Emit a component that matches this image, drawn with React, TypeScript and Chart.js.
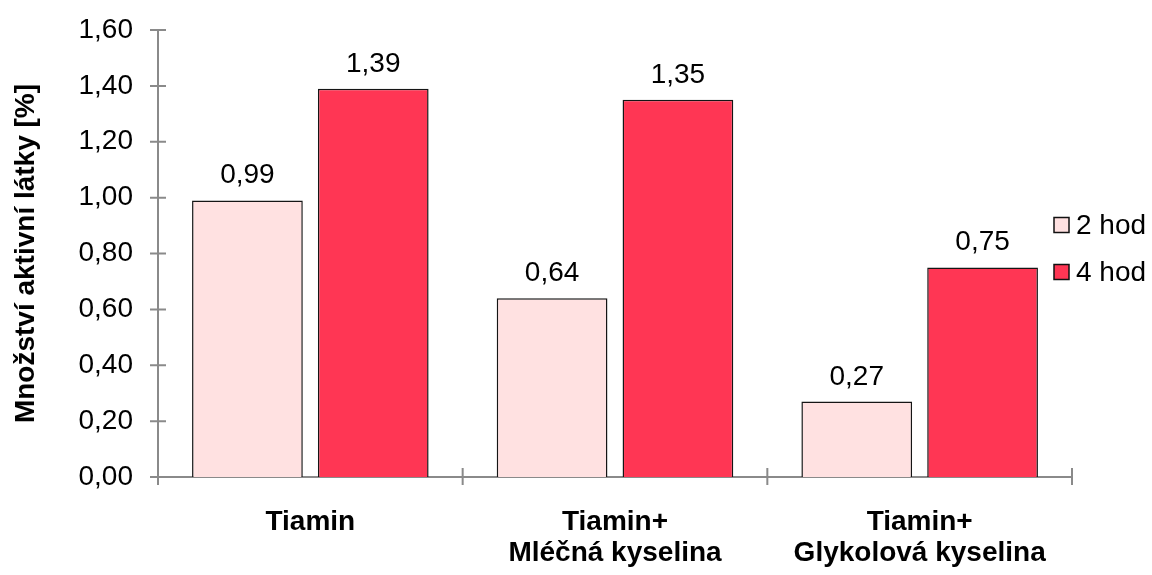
import React, { useEffect, useRef } from "react";
import { Chart, registerables } from "chart.js";

Chart.register(...registerables);

const categories: (string | string[])[] = ["Tiamin", ["Tiamin+", "Mléčná kyselina"], ["Tiamin+", "Glykolová kyselina"]];
const seriesNames = ["2 hod", "4 hod"];
const values2h = [0.99, 0.64, 0.27];
const values4h = [1.39, 1.35, 0.75];
const yTicks = [0, 0.2, 0.4, 0.6, 0.8, 1.0, 1.2, 1.4, 1.6];
const yTitle = "Množství aktivní látky [%]";

const FONT = "'Liberation Sans', Arial, Helvetica, sans-serif";
const AXIS = "#8a8a8a";
const fmt = (v: number) => v.toFixed(2).replace(".", ",");

const crossTicks = {
  id: "crossTicks",
  afterDatasetsDraw(chart: any) {
    const ctx = chart.ctx;
    const { left, right, bottom } = chart.chartArea;
    const y = chart.scales.y;
    ctx.save();
    ctx.strokeStyle = AXIS;
    ctx.lineWidth = 2;
    ctx.beginPath();
    yTicks.forEach((v) => {
      const py = y.getPixelForValue(v);
      ctx.moveTo(left - 8, py);
      ctx.lineTo(left + (v === 0 ? 0 : 8), py);
    });
    const n = categories.length;
    for (let i = 0; i <= n; i++) {
      const px = left + ((right - left) * i) / n;
      ctx.moveTo(px, bottom + 8);
      ctx.lineTo(px, bottom - (i === 0 ? 0 : 9));
    }
    ctx.stroke();
    ctx.restore();
  },
};

const valueLabels = {
  id: "valueLabels",
  afterDatasetsDraw(chart: any) {
    const ctx = chart.ctx;
    ctx.save();
    ctx.font = `28px ${FONT}`;
    ctx.fillStyle = "#000";
    ctx.textAlign = "center";
    ctx.textBaseline = "alphabetic";
    chart.data.datasets.forEach((ds: any, di: number) => {
      const meta = chart.getDatasetMeta(di);
      meta.data.forEach((bar: any, i: number) => {
        ctx.fillText(fmt(ds.data[i]), bar.x, bar.y - 17);
      });
    });
    ctx.restore();
  },
};

const sideLegend = {
  id: "sideLegend",
  afterDraw(chart: any) {
    const ctx = chart.ctx;
    const bx = chart.width - 98;
    const ys = [225, 272];
    ctx.save();
    ctx.font = `28px ${FONT}`;
    ctx.textBaseline = "middle";
    ctx.textAlign = "left";
    chart.data.datasets.forEach((ds: any, i: number) => {
      const cy = ys[i];
      ctx.fillStyle = ds.backgroundColor;
      ctx.fillRect(bx, cy - 7.5, 15, 15);
      ctx.strokeStyle = "#111";
      ctx.lineWidth = 1.5;
      ctx.strokeRect(bx, cy - 7.5, 15, 15);
      ctx.fillStyle = "#000";
      ctx.fillText(ds.label, bx + 22, cy + 1);
    });
    ctx.restore();
  },
};

export default function App() {
  const ref = useRef<HTMLCanvasElement | null>(null);
  useEffect(() => {
    if (!ref.current) return;
    const chart = new Chart(ref.current, {
      type: "bar",
      data: {
        labels: categories,
        datasets: [
          {
            label: seriesNames[0],
            data: values2h,
            backgroundColor: "#FFE1E1",
            borderColor: "#151515",
            borderWidth: 1.5,
            categoryPercentage: 0.826,
            barPercentage: 0.88,
          },
          {
            label: seriesNames[1],
            data: values4h,
            backgroundColor: "#FF3654",
            borderColor: "#151515",
            borderWidth: 1.5,
            categoryPercentage: 0.826,
            barPercentage: 0.88,
          },
        ],
      },
      options: {
        animation: false,
        responsive: false,
        maintainAspectRatio: false,
        layout: { padding: { left: 5, right: 80, top: 30, bottom: 0 } },
        plugins: {
          legend: { display: false },
          tooltip: { enabled: false },
        },
        scales: {
          x: {
            grid: { display: false },
            border: { display: true, color: AXIS, width: 2 },
            afterFit: (scale: any) => {
              scale.height = 98;
            },
            ticks: {
              color: "#000",
              padding: 22,
              font: { family: FONT, size: 28, weight: "bold", lineHeight: 1.1 },
              maxRotation: 0,
              autoSkip: false,
            },
          },
          y: {
            min: 0,
            max: 1.6,
            grid: { display: false },
            border: { display: true, color: AXIS, width: 2 },
            afterBuildTicks: (scale: any) => {
              scale.ticks = yTicks.map((v) => ({ value: v }));
            },
            afterFit: (scale: any) => {
              scale.width = 153;
              scale.paddingTop = 0;
              scale.paddingBottom = 0;
            },
            ticks: {
              color: "#000",
              padding: 17,
              font: { family: FONT, size: 28 },
              callback: (v: any) => fmt(Number(v)),
            },
            title: {
              display: true,
              text: yTitle,
              color: "#000",
              font: { family: FONT, size: 28, weight: "bold", lineHeight: 1.2 },
              padding: { top: 4, bottom: 4 },
            },
          },
        },
      },
      plugins: [crossTicks, valueLabels, sideLegend],
    });
    return () => chart.destroy();
  }, []);
  return (
    <div style={{ position: "fixed", left: 0, top: 0, width: 1152, height: 575, background: "#fff" }}>
      <canvas ref={ref} width={1152} height={575} style={{ width: 1152, height: 575, display: "block" }} />
    </div>
  );
}
